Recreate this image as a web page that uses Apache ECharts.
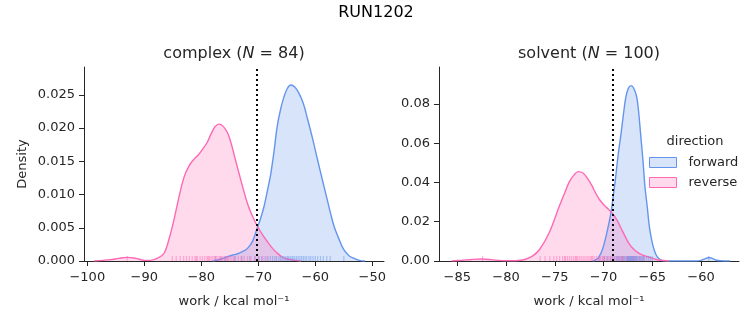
<!DOCTYPE html>
<html>
<head>
<meta charset="utf-8">
<script src="https://cdn.jsdelivr.net/npm/echarts@6/dist/echarts.min.js"></script>
<style>
html,body{margin:0;padding:0;background:#fff;}
#chart{width:753px;height:325px;}
</style>
</head>
<body>
<div id="chart"></div>
<script>
// ---------- DATA ----------
var figTitle = 'RUN1202';
var panelNames = ['complex', 'solvent'];
var panelN = [84, 100];
var directions = ['forward', 'reverse'];

// KDE curves: [work, density]
var complexForwardKde = [[-78,0],[-76.5,0.0003],[-75.4,0.00065],[-74.5,0.0009],[-73.7,0.00105],[-72.8,0.0014],[-71.9,0.0019],[-71.0,0.0030],[-70.3,0.0047],[-69.6,0.0064],[-69.0,0.0082],[-68.4,0.0106],[-67.8,0.0132],[-67.2,0.0168],[-66.7,0.0202],[-66.1,0.0228],[-65.5,0.0247],[-64.9,0.0260],[-64.3,0.0265],[-63.6,0.0262],[-62.9,0.0253],[-62.1,0.0237],[-61.4,0.0215],[-60.5,0.0185],[-59.6,0.0152],[-58.7,0.0120],[-57.9,0.0092],[-57.3,0.0071],[-56.7,0.0052],[-55.8,0.0032],[-55.0,0.0017],[-54.1,0.0008],[-53.2,0.0004],[-52.3,0.0001],[-51.3,0]];
var complexReverseKde = [[-98.8,0],[-96,0.0002],[-94.5,0.0004],[-93,0.00055],[-91.5,0.0004],[-90,0.0001],[-88.9,0.0001],[-87.5,0.0005],[-86.5,0.0012],[-85.6,0.0035],[-84.8,0.0062],[-83.9,0.0097],[-83.0,0.0127],[-82.1,0.0144],[-81.3,0.0153],[-80.5,0.0160],[-79.8,0.0168],[-79,0.0178],[-78.3,0.0191],[-77.6,0.0202],[-76.9,0.0206],[-76.2,0.0203],[-75.4,0.0193],[-74.7,0.0175],[-74.0,0.0152],[-73.2,0.0126],[-72.5,0.0104],[-71.8,0.0084],[-71.0,0.0067],[-70.2,0.0053],[-69.3,0.0040],[-68.4,0.0029],[-67.5,0.0019],[-66.7,0.0012],[-65.8,0.0006],[-64.9,0.0003],[-63.5,0.0001],[-62.5,0]];
var solventForwardKde = [[-71.1,0],[-70.7,0.0008],[-70.45,0.0022],[-70.1,0.0060],[-69.75,0.0124],[-69.5,0.0180],[-69.25,0.0243],[-69.0,0.0330],[-68.75,0.0430],[-68.5,0.0540],[-68.2,0.0650],[-67.95,0.0750],[-67.7,0.0837],[-67.45,0.0880],[-67.17,0.0893],[-66.9,0.0880],[-66.6,0.0837],[-66.4,0.0760],[-66.2,0.0650],[-65.95,0.0510],[-65.75,0.0379],[-65.5,0.0270],[-65.3,0.0175],[-65.05,0.0105],[-64.8,0.0056],[-64.5,0.0022],[-64.1,0.0005],[-63.6,0.0001],[-63,0],[-60.5,0],[-60.0,0.0003],[-59.6,0.0011],[-59.2,0.0018],[-58.8,0.0012],[-58.4,0.0004],[-58.0,0.0001],[-57.0,0]];
var solventReverseKde = [[-85.6,0],[-84.5,0.0004],[-83.5,0.0008],[-82.5,0.0010],[-81.5,0.0007],[-80.5,0.0002],[-79.5,0.0001],[-78.5,0.0004],[-78,0.0009],[-77.3,0.0025],[-76.6,0.0056],[-75.6,0.0141],[-74.55,0.0277],[-74.0,0.0345],[-73.5,0.0404],[-73.0,0.0440],[-72.6,0.0455],[-72.1,0.0448],[-71.65,0.0421],[-71.2,0.0385],[-70.8,0.0345],[-70.4,0.0312],[-69.95,0.0285],[-69.5,0.0264],[-69.1,0.0243],[-68.6,0.0207],[-68.2,0.0167],[-67.8,0.0127],[-67.4,0.0090],[-66.9,0.0060],[-66.35,0.0039],[-65.8,0.0027],[-65.3,0.0019],[-64.8,0.0011],[-64.3,0.0005],[-63.3,0]];

// individual work values (rug)
var complexForwardWork = [-77.5,-75.8,-74.2,-72.9,-71.5,-70.6,-69.9,-69.4,-68.8,-68.3,-67.9,-67.5,-67.1,-66.8,-66.4,-66.1,-65.8,-65.5,-65.2,-64.9,-64.7,-64.4,-64.1,-63.9,-63.6,-63.3,-63.0,-62.7,-62.4,-62.1,-61.8,-61.5,-61.1,-60.8,-60.4,-60.0,-59.6,-59.1,-58.6,-58.0,-57.4,-55.0];
var complexReverseWork = [-93.0,-85.1,-84.4,-83.7,-83.1,-82.6,-82.1,-81.6,-81.1,-80.9,-80.7,-80.2,-79.8,-79.4,-79.0,-78.8,-78.6,-78.3,-78.0,-77.7,-77.4,-77.1,-76.8,-76.6,-76.5,-76.2,-75.9,-75.6,-75.4,-75.2,-74.8,-74.4,-74.0,-73.5,-73.0,-72.5,-71.9,-71.3,-70.6,-69.9,-69.2,-68.5];
var solventForwardWork = [-70.4,-69.9,-69.6,-69.3,-69.1,-68.9,-68.7,-68.6,-68.5,-68.4,-68.3,-68.15,-68.1,-68.0,-67.9,-67.8,-67.7,-67.6,-67.55,-67.5,-67.45,-67.4,-67.35,-67.3,-67.25,-67.2,-67.15,-67.1,-67.05,-67.0,-66.95,-66.9,-66.85,-66.8,-66.7,-66.65,-66.6,-66.5,-66.4,-66.3,-66.2,-66.1,-66.0,-65.9,-65.8,-65.6,-65.4,-65.2,-65.0,-59.2];
var solventReverseWork = [-82.4,-76.5,-76.0,-75.5,-75.1,-74.8,-74.5,-74.2,-74.0,-73.9,-73.7,-73.5,-73.3,-73.1,-72.9,-72.8,-72.7,-72.5,-72.3,-72.1,-71.9,-71.7,-71.5,-71.3,-71.2,-71.1,-70.9,-70.7,-70.5,-70.3,-70.1,-70.0,-69.9,-69.7,-69.5,-69.3,-69.1,-68.9,-68.7,-68.5,-68.3,-68.1,-68.0,-67.9,-67.6,-67.3,-67.0,-66.7,-66.3,-65.9];

// vertical dotted reference lines
var refLines = [-70.3, -69.05];

// axis ticks
var complexXTicks = [-100,-90,-80,-70,-60,-50];
var solventXTicks = [-85,-80,-75,-70,-65,-60];
var complexYTicks = [0,0.005,0.010,0.015,0.020,0.025];
var solventYTicks = [0,0.02,0.04,0.06,0.08];
var xRanges = [[-100.58,-47.95],[-86.88,-56.1]];
var yMax = [0.0292, 0.0988];

// ---------- STYLE ----------
var FONT = 'DejaVu Sans';
var INK = '#262626';
var lineColors = {forward:'#6495ED', reverse:'#FF69B4'};
var fillColors = {forward:'rgba(100,149,237,0.25)', reverse:'rgba(255,105,180,0.25)'};
var rugColors = {forward:'rgba(100,149,237,0.6)', reverse:'rgba(255,105,180,0.6)'};

function fmtX(v){ return v < 0 ? '\u2212' + Math.abs(v) : String(v); }

var grids = [
  {left:84, top:67, width:300, height:194},
  {left:439, top:67, width:300, height:194}
];
var xTicks = [complexXTicks, solventXTicks];
var yTicks = [complexYTicks, solventYTicks];
var yDigits = [3, 2];

var xAxes = [], yAxes = [];
for (var i = 0; i < 2; i++) {
  xAxes.push({
    type:'value', gridIndex:i, min:xRanges[i][0], max:xRanges[i][1],
    name:'work / kcal mol\u207B\u00B9', nameLocation:'middle', nameGap:34,
    nameTextStyle:{fontFamily:FONT, fontSize:13, color:INK},
    axisLine:{show:true, lineStyle:{color:INK, width:1}},
    axisTick:{show:true, inside:false, length:5, lineStyle:{color:INK, width:1}, customValues:xTicks[i]},
    axisLabel:{show:true, margin:10, fontFamily:FONT, fontSize:13, color:INK, formatter:fmtX, customValues:xTicks[i]},
    splitLine:{show:false}
  });
  (function(d){
    yAxes.push({
      type:'value', gridIndex:i, min:0, max:yMax[i],
      name: i === 0 ? 'Density' : '', nameLocation:'middle', nameGap:55,
      nameTextStyle:{fontFamily:FONT, fontSize:13, color:INK},
      axisLine:{show:true, lineStyle:{color:INK, width:1}},
      axisTick:{show:true, inside:false, length:5, lineStyle:{color:INK, width:1}, customValues:yTicks[i]},
      axisLabel:{show:true, margin:9, fontFamily:FONT, fontSize:13, color:INK,
        formatter:function(v){ return v.toFixed(d); }, customValues:yTicks[i]},
      splitLine:{show:false}
    });
  })(yDigits[i]);
}

var kdeData = [[complexForwardKde, complexReverseKde],[solventForwardKde, solventReverseKde]];
var rugData = [[complexForwardWork, complexReverseWork],[solventForwardWork, solventReverseWork]];

var series = [];
for (var p = 0; p < 2; p++) {
  for (var h = 0; h < 2; h++) {
    var dir = directions[h];
    var s = {
      name: dir, type:'line', xAxisIndex:p, yAxisIndex:p,
      data: kdeData[p][h], smooth:0.35, showSymbol:false, symbol:'none',
      lineStyle:{color:lineColors[dir], width:1.4},
      itemStyle:{color:lineColors[dir]},
      areaStyle:{color:fillColors[dir], opacity:1, origin:'start'},
      z:2, silent:true
    };
    if (h === 0) {
      s.markLine = {
        silent:true, symbol:['none','none'], label:{show:false},
        lineStyle:{color:'#000', type:[2,3], width:2},
        data:[{xAxis:refLines[p]}], z:5
      };
    }
    series.push(s);
  }
  for (var h2 = 0; h2 < 2; h2++) {
    var dir2 = directions[h2];
    series.push({
      name: dir2 + ' rug', type:'scatter', xAxisIndex:p, yAxisIndex:p,
      data: rugData[p][h2].map(function(v){ return [v, 0]; }),
      symbol:'rect', symbolSize:[1.2,5], symbolOffset:[0,-2.5],
      itemStyle:{color:rugColors[dir2]}, clip:false, silent:true, z:3
    });
  }
}

var chart = echarts.init(document.getElementById('chart'), null, {renderer:'canvas'});
chart.setOption({
  animation:false,
  backgroundColor:'#fff',
  grid:grids,
  xAxis:xAxes,
  yAxis:yAxes,
  legend:{
    show:true, orient:'vertical', left:649, top:156, padding:0, itemWidth:27, itemHeight:10, itemGap:7,
    selectedMode:false,
    textStyle:{fontFamily:FONT, fontSize:13, color:INK, padding:[0,0,0,7]},
    data:[
      {name:'forward', icon:'rect', itemStyle:{color:fillColors.forward, borderColor:lineColors.forward, borderWidth:1}},
      {name:'reverse', icon:'rect', itemStyle:{color:fillColors.reverse, borderColor:lineColors.reverse, borderWidth:1}}
    ]
  },
  graphic:[
    {type:'text', x:376, y:13, silent:true, style:{text:figTitle, fontFamily:FONT, fontSize:16, fill:'#000', align:'center', verticalAlign:'middle'}},
    {type:'text', x:234, y:54, silent:true, style:{text:panelNames[0] + ' ({i|N} = ' + panelN[0] + ')', fontFamily:FONT, fontSize:16, fill:INK, align:'center', verticalAlign:'middle',
      rich:{i:{fontFamily:FONT, fontSize:16, fontStyle:'italic', fill:INK}}}},
    {type:'text', x:589, y:54, silent:true, style:{text:panelNames[1] + ' ({i|N} = ' + panelN[1] + ')', fontFamily:FONT, fontSize:16, fill:INK, align:'center', verticalAlign:'middle',
      rich:{i:{fontFamily:FONT, fontSize:16, fontStyle:'italic', fill:INK}}}},
    {type:'text', x:695, y:142, silent:true, style:{text:'direction', fontFamily:FONT, fontSize:13, fill:INK, align:'center', verticalAlign:'middle'}}
  ],
  series:series
});
</script>
</body>
</html>
